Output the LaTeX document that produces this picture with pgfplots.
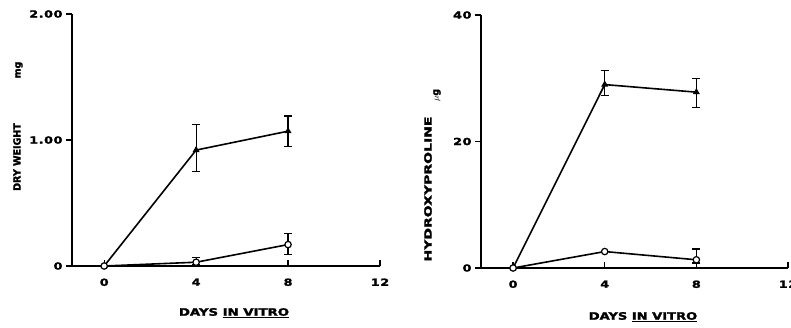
\documentclass[border=0pt]{standalone}
\usepackage{fontspec}
\setmainfont{DejaVu Sans}
\newfontfamily\tickf[FakeStretch=1.3,LetterSpace=6,FakeBold=2]{DejaVu Sans}
\newfontfamily\lblf[FakeBold=2]{DejaVu Sans}
\usepackage{pgfplots}
\pgfplotsset{compat=1.18}
\newcommand{\ticksfont}{\tickf\bfseries\fontsize{9.8}{11}\selectfont}
\pgfplotsset{
  panel/.style={
    anchor=south west, scale only axis,
    xmin=-1.4, xmax=12, ymin=0,
    axis lines=left, axis line style={-, line width=1.4pt},
    xtick={0,4,8,12},
    tick align=center, major tick length=6pt,
    every tick/.style={black, line width=1.2pt},
    ytick style={xshift=-3pt}, xtick style={yshift=3pt},
    tick label style={font=\ticksfont},
    /pgf/number format/assume math mode=true,
    yticklabel style={xshift=-3pt}, xticklabel style={yshift=-6pt},
    clip=false,
  },
  upper/.style={black, line width=1.6pt, mark=triangle*, mark size=2.5pt,
    mark options={solid},
    error bars/.cd, y dir=both, y explicit,
    error bar style={line width=1.2pt},
    error mark options={black, line width=1.2pt, mark size=4pt, rotate=90}},
  lower/.style={black, line width=1.6pt, mark=*, mark size=3.2pt,
    mark options={fill=white, line width=1.2pt},
    error bars/.cd, y dir=both, y explicit,
    error bar style={line width=1.2pt},
    error mark options={black, line width=1.2pt, mark size=4pt, rotate=90}},
}
\begin{document}
\begin{tikzpicture}[x=1pt,y=1pt]
\path[use as bounding box] (0,0) rectangle (791,327);
% Left panel
\begin{axis}[panel, at={(72pt,61pt)}, width=308pt, height=252pt,
  ymax=2, ytick={0,1,2}, yticklabels={0,1.00,2.00}, xticklabels={0,4,8,12}]
\addplot[upper] coordinates {
  (0,0) += (0,0) -= (0,0)
  (4,0.92) += (0,0.20) -= (0,0.17)
  (8,1.07) += (0,0.12) -= (0,0.12)
};
\addplot[lower] coordinates {
  (0,0) += (0,0) -= (0,0)
  (4,0.03) += (0,0.04) -= (0,0.02)
  (8,0.17) += (0,0.09) -= (0,0.08)
};
\end{axis}
% Right panel
\begin{axis}[panel, at={(481pt,59pt)}, width=307pt, height=253pt,
  ymax=40, ytick={0,20,40}, yticklabels={0,20,40}, xticklabels={0,4,8,12}]
\addplot[upper] coordinates {
  (0,0) += (0,0) -= (0,0)
  (4,29.0) += (0,2.2) -= (0,1.7)
  (8,27.8) += (0,2.1) -= (0,2.4)
};
\addplot[lower] coordinates {
  (0,0) += (0,0) -= (0,0)
  (4,2.6) += (0,0) -= (0,0)
  (8,1.3) += (0,1.7) -= (0,0.5)
};
\end{axis}
% Axis labels
\node[rotate=90, font=\lblf\bfseries\fontsize{10}{12}\selectfont] at (17,170) {\scalebox{0.95}[1]{DRY WEIGHT}};
\node[rotate=90, font=\lblf\bfseries\fontsize{9.5}{11}\selectfont] at (19,257) {mg};
\node[rotate=90, font=\lblf\bfseries\fontsize{10}{12}\selectfont] at (428,138) {\scalebox{1.4}[1]{HYDROXYPROLINE}};
\node[rotate=90, font=\lblf\bfseries\fontsize{9.5}{11}\selectfont] at (437,232) {$\mu$g};
\node[font=\lblf\bfseries\fontsize{10.2}{12}\selectfont] at (234,14) {\scalebox{1.3}[1]{DAYS \underline{IN VITRO}}};
\node[font=\lblf\bfseries\fontsize{10.2}{12}\selectfont] at (643,10) {\scalebox{1.28}[1]{DAYS \underline{IN VITRO}}};
\end{tikzpicture}
\end{document}
